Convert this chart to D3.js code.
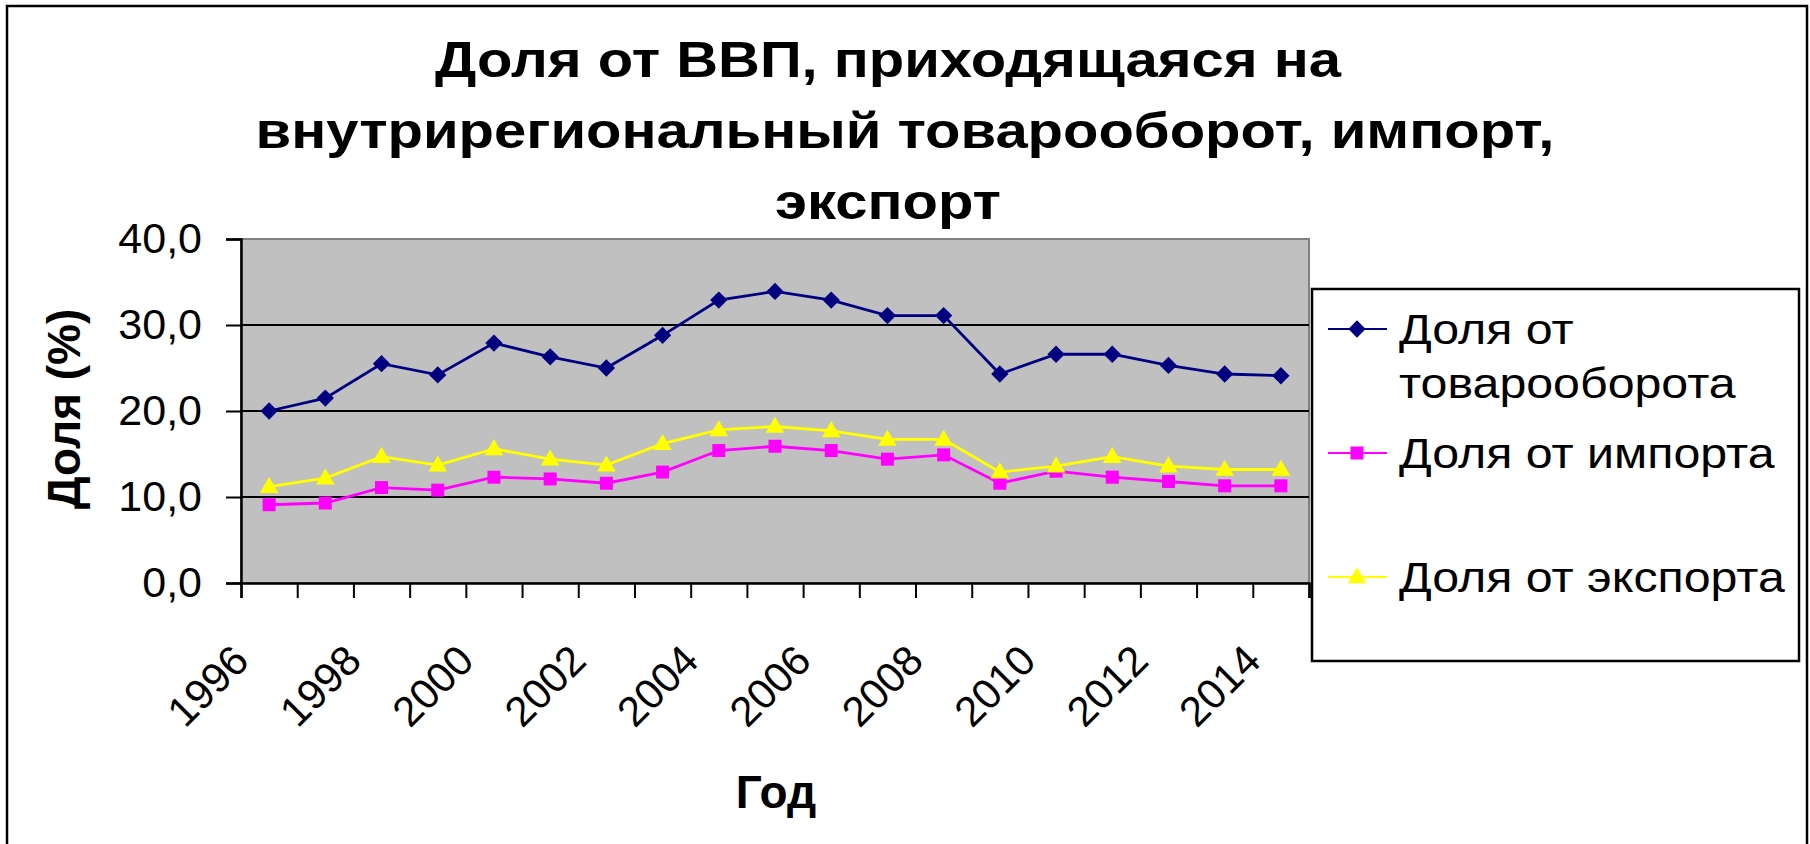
<!DOCTYPE html>
<html lang="ru">
<head>
<meta charset="utf-8">
<title>Доля от ВВП</title>
<script src="https://cdn.jsdelivr.net/npm/d3@7"></script>
<style>
  body { margin: 0; background: #fff; }
  text { font-family: Arial, "Liberation Sans", sans-serif; }
</style>
</head>
<body>
<script>
// data
var years = ["1996","1997","1998","1999","2000","2001","2002","2003","2004","2005",
             "2006","2007","2008","2009","2010","2011","2012","2013","2014"];
var tradeShare  = [20.0, 21.5, 25.5, 24.2, 27.9, 26.3, 25.0, 28.8, 32.9, 33.9, 32.9, 31.1, 31.1, 24.3, 26.6, 26.6, 25.3, 24.3, 24.1];
var importShare = [9.1, 9.3, 11.1, 10.8, 12.3, 12.1, 11.6, 12.9, 15.4, 15.9, 15.4, 14.4, 14.9, 11.6, 13.0, 12.3, 11.8, 11.3, 11.3];
var exportShare = [11.2, 12.2, 14.7, 13.7, 15.6, 14.4, 13.7, 16.2, 17.8, 18.2, 17.7, 16.7, 16.7, 12.9, 13.6, 14.7, 13.6, 13.2, 13.2];
var yTicks = [0, 10, 20, 30, 40];
var xLabels = ["1996","1998","2000","2002","2004","2006","2008","2010","2012","2014"];
var titleLines = ["Доля от ВВП, приходящаяся на", "внутрирегиональный товарооборот, импорт,", "экспорт"];

var series = [
  {name: ["Доля от", "товарооборота"], values: tradeShare,  color: "#000080", shape: "diamond"},
  {name: ["Доля от импорта"],          values: importShare, color: "#ff00ff", shape: "square"},
  {name: ["Доля от экспорта"],         values: exportShare, color: "#ffff00", shape: "triangle"}
];

var w = 1810, h = 844;
var plot = {left: 241, top: 239, right: 1309, bottom: 583};

var svg = d3.select("body").append("svg").attr("width", w).attr("height", h);

// chart frame
svg.append("rect").attr("x", 7).attr("y", 6).attr("width", 1800).attr("height", 846)
  .attr("fill", "#fff").attr("stroke", "#000").attr("stroke-width", 2.5);

// title (the picture's title font runs wide, so stretch it)
var titleX = [888, 905, 888];
svg.append("g").selectAll("text").data(titleLines).enter().append("text")
  .attr("transform", function(d, i) {
    return "translate(" + titleX[i] + "," + (77 + i * 71) + ") scale(1.16,1)";
  })
  .attr("text-anchor", "middle").attr("font-size", 50).attr("font-weight", "bold")
  .text(function(d) { return d; });

var x = d3.scaleBand().domain(years).range([plot.left, plot.right]).padding(0);
var xEdge = d3.scaleLinear().domain([0, years.length]).range([plot.left, plot.right]);
var y = d3.scaleLinear().domain([0, 40]).range([plot.bottom, plot.top]);

// plot area
svg.append("rect").attr("x", plot.left).attr("y", plot.top)
  .attr("width", plot.right - plot.left).attr("height", plot.bottom - plot.top)
  .attr("fill", "#c0c0c0").attr("stroke", "#808080").attr("stroke-width", 2);

// gridlines
svg.append("g").selectAll("line").data([10, 20, 30]).enter().append("line")
  .attr("x1", plot.left).attr("x2", plot.right)
  .attr("y1", function(d) { return y(d); }).attr("y2", function(d) { return y(d); })
  .attr("stroke", "#000").attr("stroke-width", 2);

// y axis
var yAxis = d3.axisLeft(y).tickValues(yTicks).tickSize(15).tickPadding(24)
  .tickFormat(function(d) { return d3.format(".1f")(d).replace(".", ","); });
var gy = svg.append("g").attr("transform", "translate(" + plot.left + ",0)").call(yAxis);
gy.select(".domain").attr("stroke", "#000").attr("stroke-width", 2.5);
gy.selectAll(".tick line").attr("stroke", "#000").attr("stroke-width", 2);
gy.selectAll(".tick text").attr("font-size", 43).attr("fill", "#000")
  .style("font-family", "Arial, 'Liberation Sans', sans-serif");

// x axis (ticks between categories)
var xAxis = d3.axisBottom(xEdge).tickValues(d3.range(years.length + 1)).tickSize(15).tickFormat("");
var gx = svg.append("g").attr("transform", "translate(0," + plot.bottom + ")").call(xAxis);
gx.select(".domain").attr("stroke", "#000").attr("stroke-width", 2.5);
gx.selectAll(".tick line").attr("stroke", "#000").attr("stroke-width", 2);

svg.append("g").selectAll("text").data(xLabels).enter().append("text")
  .attr("transform", function(d) {
    var cx = x(d) + x.bandwidth() / 2 - 18;
    return "translate(" + cx + ",663) rotate(-45)";
  })
  .attr("text-anchor", "end").attr("font-size", 42)
  .text(function(d) { return d; });

// axis titles
svg.append("text").attr("transform", "translate(80,409) rotate(-90)")
  .attr("text-anchor", "middle").attr("font-size", 46).attr("font-weight", "bold")
  .text("Доля (%)");
svg.append("text").attr("x", 776).attr("y", 808)
  .attr("text-anchor", "middle").attr("font-size", 46).attr("font-weight", "bold")
  .text("Год");

function markerPath(shape) {
  if (shape == "diamond") return d3.symbol(d3.symbolSquare, 150)();
  if (shape == "square") return d3.symbol(d3.symbolSquare, 169)();
  return d3.symbol(d3.symbolTriangle, 150)();
}
function markerTransform(shape, px, py) {
  if (shape == "diamond") return "translate(" + px + "," + py + ") rotate(45)";
  if (shape == "triangle") return "translate(" + px + "," + (py + 1) + ")";
  return "translate(" + px + "," + py + ")";
}

var line = d3.line()
  .x(function(d, i) { return x(years[i]) + x.bandwidth() / 2; })
  .y(function(d) { return y(d); });

series.forEach(function(s) {
  var g = svg.append("g");
  g.append("path").attr("d", line(s.values))
    .attr("fill", "none").attr("stroke", s.color).attr("stroke-width", 2.8);
  g.selectAll("path.m").data(s.values).enter().append("path").attr("class", "m")
    .attr("d", markerPath(s.shape))
    .attr("transform", function(d, i) {
      return markerTransform(s.shape, x(years[i]) + x.bandwidth() / 2, y(d));
    })
    .attr("fill", s.color);
});

// legend
var legend = svg.append("g");
legend.append("rect").attr("x", 1312).attr("y", 289).attr("width", 487).attr("height", 372)
  .attr("fill", "#fff").attr("stroke", "#000").attr("stroke-width", 2.5);
var legendY = [329, 453, 577];
series.forEach(function(s, i) {
  var ly = legendY[i];
  legend.append("line").attr("x1", 1328).attr("x2", 1387).attr("y1", ly).attr("y2", ly)
    .attr("stroke", s.color).attr("stroke-width", 2);
  legend.append("path").attr("d", markerPath(s.shape))
    .attr("transform", markerTransform(s.shape, 1357, ly)).attr("fill", s.color);
  s.name.forEach(function(t, j) {
    legend.append("text")
      .attr("transform", "translate(1399," + (ly + 15 + j * 54) + ") scale(1.15,1)")
      .attr("font-size", 42).text(t);
  });
});
</script>
</body>
</html>
